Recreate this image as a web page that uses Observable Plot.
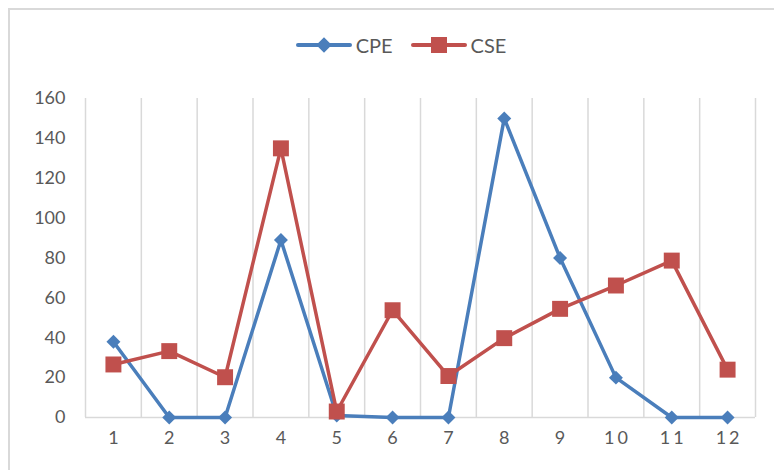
<!DOCTYPE html>
<html>
<head>
<meta charset="utf-8">
<script src="https://cdn.jsdelivr.net/npm/d3@7"></script>
<script src="https://cdn.jsdelivr.net/npm/@observablehq/plot@0.6"></script>
<style>
  html, body { margin: 0; padding: 0; background: #fff; overflow: hidden; }
  #wrap { position: relative; width: 774px; height: 470px; overflow: hidden; font-family: Lato, "Open Sans", sans-serif; }
  #border { position: absolute; left: 8px; top: 8px; width: 790px; height: 490px; border: 2px solid #d9d9d9; box-sizing: border-box; }
  #legend { position: absolute; left: 0; top: 0; width: 774px; height: 80px; display: flex; justify-content: center; align-items: center; gap: 18px; padding-top: 10px; padding-left: 28px; box-sizing: border-box; color: #595959; font-size: 20px; }
  .item { display: flex; align-items: center; gap: 4px; }
  #chart { position: absolute; left: 0; top: 80px; }
  #chart svg { font-family: Lato, "Open Sans", sans-serif; }
  g[aria-label="x-axis tick label"] text { letter-spacing: 3px; }
</style>
</head>
<body>
<div id="wrap">
  <div id="border"></div>
  <div id="legend"></div>
  <div id="chart"></div>
</div>
<script>
const categories = ["1","2","3","4","5","6","7","8","9","10","11","12"];
const cpe = [38, 0, 0, 89, 1, 0, 0, 150, 80, 20, 0, 0];
const cse = [26.6, 33.3, 20.2, 135, 3, 53.8, 20.8, 39.8, 54.5, 66.2, 78.7, 24];
const yTicks = [0, 20, 40, 60, 80, 100, 120, 140, 160];
const seriesNames = ["CPE", "CSE"];
const colors = {CPE: "#4a7ebb", CSE: "#c0504d"};
const symbols = {CPE: "diamond2", CSE: "square"};

const rows = [];
categories.forEach((c, i) => {
  rows.push({series: "CPE", x: i + 1, value: cpe[i]});
  rows.push({series: "CSE", x: i + 1, value: cse[i]});
});
const boundaries = d3.range(0, categories.length + 1).map(d => d + 0.5);

const cpeRows = rows.filter(d => d.series === "CPE");
const cseRows = rows.filter(d => d.series === "CSE");

const chart = Plot.plot({
  width: 774,
  height: 390,
  marginTop: 18,
  marginBottom: 53,
  marginLeft: 85,
  marginRight: 19,
  style: {fontSize: "18px", color: "#595959", background: "transparent"},
  x: {domain: [0.5, categories.length + 0.5], axis: null},
  y: {domain: [0, 160], axis: null},
  marks: [
    Plot.ruleX(boundaries, {stroke: "#d9d9d9", strokeWidth: 1.5}),
    Plot.ruleY([0], {stroke: "#d9d9d9", strokeWidth: 1.5}),
    Plot.axisY({ticks: yTicks, tickSize: 0, tickPadding: 20, fontSize: 18, fill: "#595959", label: null}),
    Plot.axisX({ticks: categories.map((c, i) => i + 1), tickFormat: (d) => categories[d - 1], tickSize: 0, tickPadding: 14, fontSize: 18, fill: "#595959", label: null, dx: 1.5}),
    Plot.line(cpeRows, {x: "x", y: "value", stroke: colors.CPE, strokeWidth: 3.5, strokeLinejoin: "round", strokeLinecap: "round"}),
    Plot.dot(cpeRows, {x: "x", y: "value", symbol: symbols.CPE, r: 6.3, fill: colors.CPE, stroke: "none"}),
    Plot.line(cseRows, {x: "x", y: "value", stroke: colors.CSE, strokeWidth: 3.5, strokeLinejoin: "round", strokeLinecap: "round"}),
    Plot.dot(cseRows, {x: "x", y: "value", symbol: symbols.CSE, r: 9, fill: colors.CSE, stroke: "none"})
  ]
});
document.getElementById("chart").appendChild(chart);

const legend = document.getElementById("legend");
seriesNames.forEach(name => {
  const item = document.createElement("div");
  item.className = "item";
  const sw = d3.create("svg").attr("width", 56).attr("height", 20);
  sw.append("line").attr("x1", 2).attr("x2", 54).attr("y1", 10).attr("y2", 10)
    .attr("stroke", colors[name]).attr("stroke-width", 4).attr("stroke-linecap", "round");
  if (name === "CPE") {
    sw.append("rect").attr("x", 28 - 5.5).attr("y", 10 - 5.5).attr("width", 11).attr("height", 11)
      .attr("transform", "rotate(45 28 10)").attr("fill", colors[name]);
  } else {
    sw.append("rect").attr("x", 28 - 8).attr("y", 10 - 8).attr("width", 16).attr("height", 16).attr("fill", colors[name]);
  }
  item.appendChild(sw.node());
  const t = document.createElement("span");
  t.textContent = name;
  item.appendChild(t);
  legend.appendChild(item);
});
</script>
</body>
</html>
